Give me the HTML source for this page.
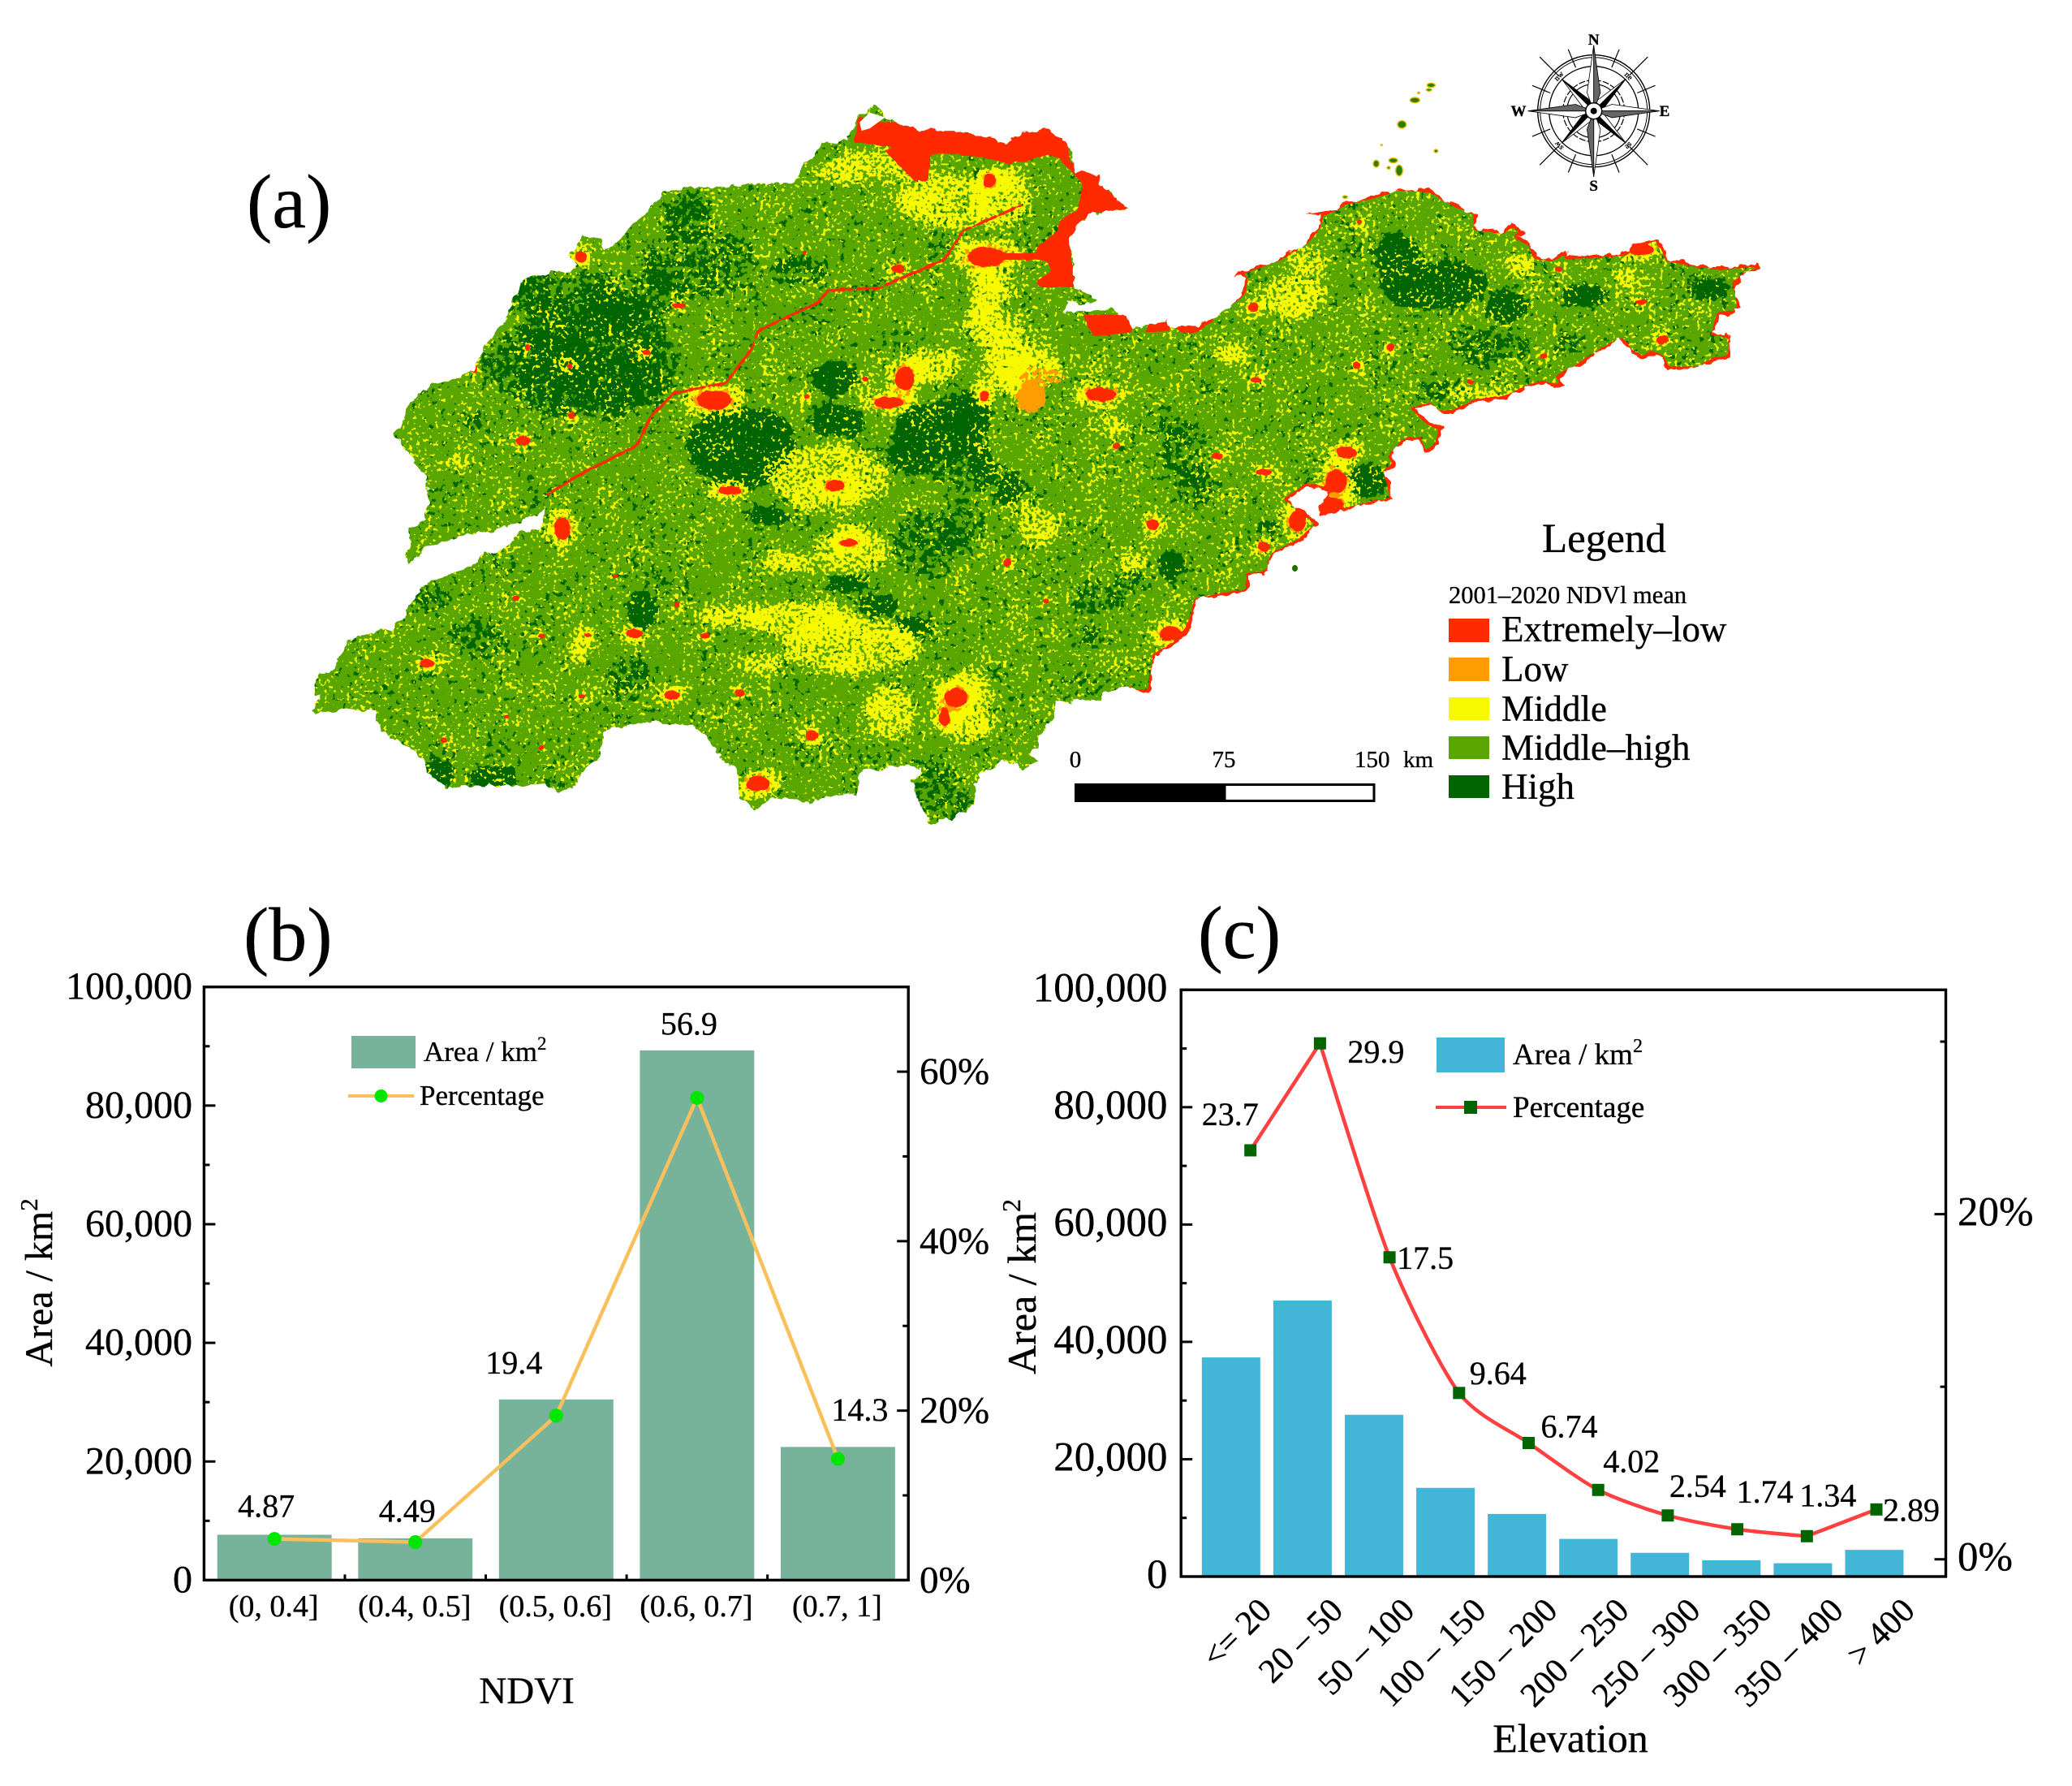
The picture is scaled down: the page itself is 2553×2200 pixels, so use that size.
<!DOCTYPE html>
<html lang="en">
<head>
<meta charset="utf-8">
<title>NDVI map and distribution charts</title>
<style>
html,body{margin:0;padding:0;background:#fff;}
svg{display:block;font-family:"Liberation Serif",serif;fill:#000;}
svg text{stroke:#000;stroke-width:0.35px;}
</style>
</head>
<body>
<svg id="fig" xmlns="http://www.w3.org/2000/svg" width="2553" height="2200" viewBox="0 0 2553 2200">
<defs>
<filter id="fDark" filterUnits="userSpaceOnUse" x="340" y="100" width="1900" height="960" color-interpolation-filters="sRGB">
<feTurbulence type="fractalNoise" baseFrequency="0.14" numOctaves="3" seed="7" result="n1"/>
<feColorMatrix in="n1" type="matrix" values="0 0 0 0 0 0 0 0 0 0 0 0 0 0 0 0 0 0 1 0" result="a1"/>
<feTurbulence type="fractalNoise" baseFrequency="0.022" numOctaves="2" seed="31" result="n2"/>
<feColorMatrix in="n2" type="matrix" values="0 0 0 0 0 0 0 0 0 0 0 0 0 0 0 0 0 0 1 0" result="a2"/>
<feComposite in="a1" in2="a2" operator="arithmetic" k1="0" k2="0.7" k3="0.3" k4="0" result="na"/>
<feGaussianBlur in="SourceAlpha" stdDeviation="5" result="d"/>
<feComposite in="d" in2="na" operator="arithmetic" k1="0" k2="1" k3="1" k4="-1" result="s"/>
<feComponentTransfer in="s" result="t"><feFuncA type="linear" slope="40" intercept="0"/></feComponentTransfer>
<feFlood flood-color="#006400"/><feComposite in2="t" operator="in"/>
</filter>
<filter id="fYel" filterUnits="userSpaceOnUse" x="340" y="100" width="1900" height="960" color-interpolation-filters="sRGB">
<feTurbulence type="fractalNoise" baseFrequency="0.22" numOctaves="2" seed="21" result="n1"/>
<feColorMatrix in="n1" type="matrix" values="0 0 0 0 0 0 0 0 0 0 0 0 0 0 0 0 0 0 1 0" result="a1"/>
<feTurbulence type="fractalNoise" baseFrequency="0.03" numOctaves="2" seed="44" result="n2"/>
<feColorMatrix in="n2" type="matrix" values="0 0 0 0 0 0 0 0 0 0 0 0 0 0 0 0 0 0 1 0" result="a2"/>
<feComposite in="a1" in2="a2" operator="arithmetic" k1="0" k2="0.75" k3="0.25" k4="0" result="na"/>
<feGaussianBlur in="SourceAlpha" stdDeviation="6" result="d"/>
<feComposite in="d" in2="na" operator="arithmetic" k1="0" k2="1" k3="1" k4="-1" result="s"/>
<feComponentTransfer in="s" result="t"><feFuncA type="linear" slope="40" intercept="0"/></feComponentTransfer>
<feFlood flood-color="#f8f800"/><feComposite in2="t" operator="in"/>
</filter>
<filter id="fOrg" filterUnits="userSpaceOnUse" x="340" y="100" width="1900" height="960" color-interpolation-filters="sRGB">
<feTurbulence type="fractalNoise" baseFrequency="0.18" numOctaves="2" seed="5" result="n"/>
<feColorMatrix in="n" type="matrix" values="0 0 0 0 0 0 0 0 0 0 0 0 0 0 0 0 0 0 1 0" result="na"/>
<feGaussianBlur in="SourceAlpha" stdDeviation="4" result="d"/>
<feComposite in="d" in2="na" operator="arithmetic" k1="0" k2="1" k3="1" k4="-1" result="s"/>
<feComponentTransfer in="s" result="t"><feFuncA type="linear" slope="40" intercept="0"/></feComponentTransfer>
<feFlood flood-color="#ff9c00"/><feComposite in2="t" operator="in"/>
</filter>
<filter id="fRed" filterUnits="userSpaceOnUse" x="340" y="100" width="1900" height="960" color-interpolation-filters="sRGB">
<feTurbulence type="fractalNoise" baseFrequency="0.12" numOctaves="3" seed="11" result="n"/>
<feColorMatrix in="n" type="matrix" values="0 0 0 0 0 0 0 0 0 0 0 0 0 0 0 0 0 0 1 0" result="na"/>
<feGaussianBlur in="SourceAlpha" stdDeviation="1.5" result="d"/>
<feComposite in="d" in2="na" operator="arithmetic" k1="0" k2="1" k3="0.8" k4="-0.9" result="s"/>
<feComponentTransfer in="s" result="t"><feFuncA type="linear" slope="40" intercept="0"/></feComponentTransfer>
<feFlood flood-color="#ff2a00"/><feComposite in2="t" operator="in"/>
</filter>
<filter id="fRough" filterUnits="userSpaceOnUse" x="340" y="100" width="1900" height="960">
<feTurbulence type="fractalNoise" baseFrequency="0.07" numOctaves="3" seed="3" result="n"/>
<feDisplacementMap in="SourceGraphic" in2="n" scale="12" xChannelSelector="R" yChannelSelector="G"/>
</filter>
<mask id="landMask" maskUnits="userSpaceOnUse" x="340" y="100" width="1900" height="960">
<path id="landMaskPath" d="" fill="#fff" filter="url(#fRough)"/>
</mask>
</defs>

<g id="mapLayer"></g>
<g id="compass"></g>

<text x="304" y="280" font-size="94">(a)</text>
<text x="300" y="1183" font-size="94">(b)</text>
<text x="1476" y="1180" font-size="92">(c)</text>

<g>
<text x="1900" y="680" font-size="51">Legend</text>
<text x="1785" y="743" font-size="30.5">2001–2020 NDVl mean</text>
<rect x="1785" y="762" width="50" height="29" fill="#ff2a00"/>
<text x="1850" y="790" font-size="45">Extremely–low</text>
<rect x="1785" y="810" width="50" height="29" fill="#ff9c00"/>
<text x="1850" y="839" font-size="45">Low</text>
<rect x="1785" y="859" width="50" height="28" fill="#f8f800"/>
<text x="1850" y="888" font-size="45">Middle</text>
<rect x="1785" y="907" width="50" height="28" fill="#5aa600"/>
<text x="1850" y="936" font-size="45">Middle–high</text>
<rect x="1785" y="955" width="50" height="28" fill="#006400"/>
<text x="1850" y="984" font-size="45">High</text>
</g>

<g>
<rect x="1324" y="965" width="185" height="23" fill="#000"/>
<rect x="1509" y="966.5" width="184" height="20" fill="#fff" stroke="#000" stroke-width="3"/>
<text x="1325" y="945" font-size="29" text-anchor="middle">0</text>
<text x="1508" y="945" font-size="29" text-anchor="middle">75</text>
<text x="1669" y="945" font-size="29">150</text>
<text x="1729" y="945" font-size="29">km</text>
</g>

<g id="chartB"></g>
<g id="chartC"></g>

<g>
<rect x="433" y="1276" width="79" height="40" fill="#76b39a"/>
<text x="522" y="1307" font-size="35">Area / km<tspan dy="-14" font-size="23">2</tspan></text>
<line x1="429" y1="1350" x2="510" y2="1350" stroke="#fbc05c" stroke-width="4"/>
<circle cx="469.5" cy="1350" r="8" fill="#00e600"/>
<text x="517" y="1361" font-size="35">Percentage</text>
</g>
<g>
<rect x="1770" y="1278" width="84" height="43" fill="#43b6d8"/>
<text x="1864" y="1311" font-size="37">Area / km<tspan dy="-15" font-size="24">2</tspan></text>
<line x1="1769" y1="1364" x2="1856" y2="1364" stroke="#ff4040" stroke-width="4"/>
<rect x="1804" y="1356" width="16" height="16" fill="#006400"/>
<text x="1864" y="1376" font-size="37">Percentage</text>
</g>

<script>
// ---- chart data ----
const ndviCategories = ["(0, 0.4]", "(0.4, 0.5]", "(0.5, 0.6]", "(0.6, 0.7]", "(0.7, 1]"];
const ndviArea = [7650, 7050, 30460, 89300, 22450];
const ndviPercent = [4.87, 4.49, 19.4, 56.9, 14.3];
const ndviPercentLabels = ["4.87", "4.49", "19.4", "56.9", "14.3"];
const elevCategories = ["<= 20", "20 – 50", "50 – 100", "100 – 150", "150 – 200", "200 – 250", "250 – 300", "300 – 350", "350 – 400", "> 400"];
const elevArea = [37350, 47040, 27570, 15120, 10670, 6420, 4050, 2770, 2270, 4545];
const elevPercent = [23.7, 29.9, 17.5, 9.64, 6.74, 4.02, 2.54, 1.74, 1.34, 2.89];
const elevPercentLabels = ["23.7", "29.9", "17.5", "9.64", "6.74", "4.02", "2.54", "1.74", "1.34", "2.89"];
const areaTicks = [0, 20000, 40000, 60000, 80000, 100000];
const areaTickLabels = ["0", "20,000", "40,000", "60,000", "80,000", "100,000"];
const areaMinorTicks = [10000, 30000, 50000, 70000, 90000];
const ndviPctTicks = [0, 20, 40, 60];
const ndviPctMinorTicks = [10, 30, 50];
const elevPctTicks = [0, 20];
const elevPctMinorTicks = [10, 30];

const NS = "http://www.w3.org/2000/svg";
function mk(tag, parent, attrs, txt) {
  const e = document.createElementNS(NS, tag);
  for (const k in attrs) e.setAttribute(k, attrs[k]);
  if (txt !== undefined) e.textContent = txt;
  parent.appendChild(e);
  return e;
}

// ---- Panel b ----
(function () {
  const root = document.getElementById("chartB");
  const L = 251.4, R = 1119.2, T = 1215.7, B = 1946.4;
  const band = (R - L) / ndviCategories.length;
  const xScale = i => L + (i + 0.5) * band;
  const yArea = v => B - v / 100000 * (B - T);
  const yPct = p => B - p / 70 * (B - T);
  const barW = band * 0.812;

  ndviArea.forEach((v, i) => {
    const bar = mk("rect", root, { x: xScale(i) - barW / 2, y: yArea(v), width: barW, height: B - yArea(v), fill: "#76b39a" });
    
    
  });

  const frame = mk("rect", root, { x: L, y: T, width: R - L, height: B - T, fill: "none", stroke: "#000", "stroke-width": 3.4 });
  
  

  areaTicks.forEach((v, i) => {
    const t = mk("line", root, { x1: L, x2: L + 14, y1: yArea(v), y2: yArea(v), stroke: "#000", "stroke-width": 3 });
    
    
    const lb = mk("text", root, { x: 237, y: yArea(v) + 15, "font-size": 48, "text-anchor": "end" }, areaTickLabels[i]);
    
    
  });
  areaMinorTicks.forEach(v => {
    const t = mk("line", root, { x1: L, x2: L + 7, y1: yArea(v), y2: yArea(v), stroke: "#000", "stroke-width": 3 });
    
    
  });
  ndviPctTicks.forEach(p => {
    const t = mk("line", root, { x1: R - 14, x2: R, y1: yPct(p), y2: yPct(p), stroke: "#000", "stroke-width": 3 });
    
    
    const lb = mk("text", root, { x: 1133, y: yPct(p) + 15, "font-size": 47 }, p + "%");
    
    
  });
  ndviPctMinorTicks.forEach(p => {
    const t = mk("line", root, { x1: R - 7, x2: R, y1: yPct(p), y2: yPct(p), stroke: "#000", "stroke-width": 3 });
    
    
  });
  ndviCategories.forEach((c, i) => {
    if (i > 0) {
      const t = mk("line", root, { x1: L + i * band, x2: L + i * band, y1: B - 7, y2: B, stroke: "#000", "stroke-width": 3 });
      
      
    }
    const lb = mk("text", root, { x: xScale(i) - 1, y: 1991, "font-size": 38, "text-anchor": "middle" }, c);
    
    
  });

  const pts = ndviPercent.map((p, i) => [xScale(i), yPct(p)]);
  const line = mk("polyline", root, { points: pts.map(p => p.join(",")).join(" "), fill: "none", stroke: "#fbc05c", "stroke-width": 4.5 });
  
  
  const nudge = [[-10, -27], [-10, -25], [-52, -52], [-10, -78], [27, -47]];
  pts.forEach((p, i) => {
    const m = mk("circle", root, { cx: p[0], cy: p[1], r: 8.5, fill: "#00e600" });
    
    
    const lb = mk("text", root, { x: p[0] + nudge[i][0], y: p[1] + nudge[i][1], "font-size": 40, "text-anchor": "middle" }, ndviPercentLabels[i]);
    
    
  });

  const xt = mk("text", root, { x: 649, y: 2098, "font-size": 47, "text-anchor": "middle" }, "NDVI");
  
  
  const yt = mk("text", root, { transform: "translate(64,1580) rotate(-90)", "font-size": 48, "text-anchor": "middle" }, "Area / km");
  
  
  mk("tspan", yt, { dy: -18, "font-size": 31 }, "2");
})();

// ---- Panel c ----
(function () {
  const root = document.getElementById("chartC");
  const L = 1455.2, R = 2397.5, T = 1219.3, B = 1942;
  const band = (R - L) / 10.7;
  const xBar = i => L + (i + 0.7) * band;
  const xLine = i => 1540.7 + i * (2312 - 1540.7) / (elevPercent.length - 1);
  const yArea = v => B - v / 100000 * (B - T);
  const yPct = p => B - (p + 1) / 34 * (B - T);
  const barW = 72;

  elevArea.forEach((v, i) => {
    const bar = mk("rect", root, { x: xBar(i) - barW / 2, y: yArea(v), width: barW, height: B - yArea(v), fill: "#43b6d8" });
    
    
  });
  const frame = mk("rect", root, { x: L, y: T, width: R - L, height: B - T, fill: "none", stroke: "#000", "stroke-width": 3.4 });
  
  

  areaTicks.forEach((v, i) => {
    const t = mk("line", root, { x1: L, x2: L + 14, y1: yArea(v), y2: yArea(v), stroke: "#000", "stroke-width": 3 });
    
    
    const lb = mk("text", root, { x: 1438.5, y: yArea(v) + 14, "font-size": 51, "text-anchor": "end" }, areaTickLabels[i]);
    
    
  });
  areaMinorTicks.forEach(v => {
    const t = mk("line", root, { x1: L, x2: L + 7, y1: yArea(v), y2: yArea(v), stroke: "#000", "stroke-width": 3 });
    
    
  });
  elevPctTicks.forEach(p => {
    const t = mk("line", root, { x1: R - 14, x2: R, y1: yPct(p), y2: yPct(p), stroke: "#000", "stroke-width": 3 });
    
    
    const lb = mk("text", root, { x: 2412, y: yPct(p) + 14, "font-size": 51 }, p + "%");
    
    
  });
  elevPctMinorTicks.forEach(p => {
    const t = mk("line", root, { x1: R - 7, x2: R, y1: yPct(p), y2: yPct(p), stroke: "#000", "stroke-width": 3 });
    
    
  });
  elevCategories.forEach((c, i) => {
    const ax = xBar(i) + 52, ay = 1986;
    const lb = mk("text", root, { transform: "translate(" + ax + "," + ay + ") rotate(-45)", "font-size": 42, "text-anchor": "end" }, c);
    
    
  });

  const pts = elevPercent.map((p, i) => [xLine(i), yPct(p)]);
  const sharp = i => {
    if (i <= 0 || i >= pts.length - 1) return true;
    return (pts[i][1] - pts[i - 1][1]) * (pts[i + 1][1] - pts[i][1]) < 0;
  };
  let d = "M" + pts[0].join(",");
  for (let i = 0; i < pts.length - 1; i++) {
    const p0 = pts[Math.max(i - 1, 0)], p1 = pts[i], p2 = pts[i + 1], p3 = pts[Math.min(i + 2, pts.length - 1)];
    const k = 1 / 8;
    const c1 = sharp(i) ? p1 : [p1[0] + (p2[0] - p0[0]) * k, p1[1] + (p2[1] - p0[1]) * k];
    const c2 = sharp(i + 1) ? p2 : [p2[0] - (p3[0] - p1[0]) * k, p2[1] - (p3[1] - p1[1]) * k];
    d += " C" + c1.join(",") + " " + c2.join(",") + " " + p2.join(",");
  }
  const line = mk("path", root, { d: d, fill: "none", stroke: "#ff4040", "stroke-width": 4.5 });
  
  
  const nudge = [[-25, -31], [69, 24], [44, 14], [48, -11], [50, -7], [41, -22], [37, -23], [34, -33], [26, -37], [43, 14]];
  pts.forEach((p, i) => {
    const m = mk("rect", root, { x: p[0] - 7.5, y: p[1] - 7.5, width: 15, height: 15, fill: "#006400" });
    
    
    const lb = mk("text", root, { x: p[0] + nudge[i][0], y: p[1] + nudge[i][1], "font-size": 40, "text-anchor": "middle" }, elevPercentLabels[i]);
    
    
  });
  const xt = mk("text", root, { x: 1935, y: 2158, "font-size": 50, "text-anchor": "middle" }, "Elevation");
  
  
  const yt = mk("text", root, { transform: "translate(1276,1585) rotate(-90)", "font-size": 50, "text-anchor": "middle" }, "Area / km");
  
  
  mk("tspan", yt, { dy: -19, "font-size": 32 }, "2");
})();

// ---- Map ----
(function () {
  const z5 = p => [360 + p[0] / 1.742, 120 + p[1] / 1.704];
  const z6 = p => [1200 + p[0] / 1.568, 200 + p[1] / 2.24];
  const z7 = p => [1200 + p[0] / 3, 480 + p[1] / 2.9];
  const west = [[45,1260],[55,1212],[80,1205],[105,1170],[120,1140],[160,1125],[210,1118],[245,1085],[265,1050],[295,1015],[340,1000],[385,985],[410,960],[460,945],[490,910],[530,905],[545,860],[520,880],[470,900],[420,910],[340,925],[290,945],[250,978],[243,965],[255,920],[250,905],[290,885],[285,870],[295,830],[285,790],[270,775],[245,740],[220,710],[235,680],[260,635],[290,605],[340,595],[390,575],[405,540],[420,510],[460,470],[470,430],[500,380],[560,365],[600,365],[610,350],[595,330],[620,295],[660,295],[670,325],[700,300],[760,240],[810,190],[880,190],[950,185],[1030,180],[1075,180],[1110,130],[1135,95],[1190,90],[1205,60],[1215,35],[1245,20],[1275,40],[1330,65],[1420,70],[1500,85],[1530,95],[1568,72]];
  const join1 = [[1286,158],[1310,171],[1327,212]];
  const east = [[240,30],[245,70],[280,100],[298,130],[270,135],[230,140],[200,170],[185,220],[190,290],[195,345],[225,375],[235,385],[205,390],[180,380],[170,415],[215,410],[260,405],[300,425],[305,460],[345,445],[370,435],[375,460],[420,450],[465,435],[500,385],[520,360],[525,320],[505,310],[540,290],[590,265],[640,220],[665,180],[670,150],[640,145],[690,135],[720,110],[780,90],[820,72],[880,75],[920,110],[970,140],[970,180],[1020,190],[1040,172],[1065,190],[1050,205],[1075,225],[1085,260],[1115,265],[1145,245],[1145,260],[1200,258],[1260,250],[1275,225],[1320,210],[1330,235],[1340,265],[1400,285],[1450,290],[1510,280],[1520,295],[1490,310],[1470,335],[1480,400],[1470,415],[1440,420],[1430,470],[1465,480],[1460,540],[1430,545],[1400,570],[1340,570],[1330,540],[1310,525],[1290,545],[1270,520],[1250,490],[1200,530],[1160,570],[1130,590],[1140,620],[1100,610],[1070,620],[1030,650],[970,660],[925,690],[895,690],[880,670],[850,680],[880,720],[905,730],[895,780],[870,805],[860,765],[830,770],[805,810],[815,835],[795,850],[810,930],[770,940],[720,960],[665,970],[685,900],[640,895],[605,930],[640,965],[665,1000],[630,1045],[580,1080],[565,1135],[530,1140],[530,1185],[480,1195],[430,1210],[420,1265],[400,1320],[350,1360],[340,1460]];
  const se = [[600,1080],[570,1065],[480,1085],[470,1105],[300,1120],[295,1180],[240,1240],[235,1280],[200,1300],[235,1325],[180,1350],[110,1330]];
  const south = [[1470,1420],[1465,1480],[1440,1500],[1395,1520],[1365,1525],[1345,1470],[1330,1440],[1350,1410],[1300,1400],[1215,1420],[1215,1465],[1170,1460],[1110,1480],[1060,1470],[1030,1470],[990,1495],[960,1470],[950,1410],[920,1385],[890,1340],[860,1315],[780,1310],[720,1318],[670,1330],[660,1390],[635,1400],[600,1450],[560,1455],[540,1440],[490,1445],[380,1445],[330,1450],[290,1415],[280,1385],[190,1330],[180,1290],[120,1285],[70,1290],[45,1285],[60,1250]];
  const land = west.map(z5).concat(join1, east.map(z6), se.map(z7), south.map(z5));
  const toD = a => "M" + a.map(p => p[0].toFixed(1) + "," + p[1].toFixed(1)).join("L") + "Z";
  const landD = toD(land);
  document.getElementById("landMaskPath").setAttribute("d", landD);

  const root = document.getElementById("mapLayer");
  const clip = mk("g", root, { mask: "url(#landMask)" });
  
  
  const base = mk("rect", clip, { x: 340, y: 100, width: 1900, height: 960, fill: "#5aa600" });
  
  

  const blob = (g, conv, b, sx, sy, scale, op) => {
    const c = conv([b[0], b[1]]);
    mk("ellipse", g, { cx: c[0], cy: c[1], rx: b[2] / sx * scale, ry: b[3] / sy * scale, fill: "#000", "fill-opacity": op });
  };
  const S5 = [1.742, 1.704], S6 = [1.568, 2.24];

  // dark green (high)
  const darkSolid5 = [[965,735,110,80],[1000,700,70,40],[1165,590,45,30],[1170,680,55,30],[1390,700,95,55],[1450,660,50,35],[1330,750,45,35],[1020,880,40,15],[1190,1020,40,15],[1260,1065,40,18],[1330,1110,40,18],[310,1420,35,25],[430,1430,50,20],[750,1075,30,35]];
  const darkPlain5 = [[1440,780,70,40],[1520,820,50,40],[650,490,150,85],[640,610,170,65],[540,590,50,40],[1090,365,60,35],[400,1130,60,45],[565,1440,30,15],[290,1050,50,30],[720,1220,45,50],[1360,940,70,70],[1440,900,50,50],[850,260,60,50],[780,1020,30,30],[390,680,30,20],[640,420,200,60],[620,560,210,90],[880,350,120,70],[1390,1470,70,60]];
  const darkSolid6 = [[890,340,100,60],[820,260,40,60],[760,880,35,40],[1180,365,40,25],[1420,350,35,25],[70,900,15,40],[380,1110,20,35],[15,820,15,35],[1030,400,40,40]];
  const darkPlain6 = [[730,240,30,30],[970,510,50,60],[1150,500,30,30],[1290,260,25,20],[410,800,50,90],[240,1200,50,40],[310,1150,30,30],[500,1060,20,30],[30,1415,20,20],[230,1320,50,30],[575,1010,25,30],[10,700,15,20],[920,630,50,30],[1050,500,30,40],[430,900,40,50]];
  const gDark = mk("g", clip, { filter: "url(#fDark)" });
  
  
  mk("rect", gDark, { x: 340, y: 100, width: 1900, height: 960, fill: "#000", "fill-opacity": 0.37 });
  darkSolid5.forEach(b => blob(gDark, z5, b, S5[0], S5[1], 1, 1));
  darkSolid6.forEach(b => blob(gDark, z6, b, S6[0], S6[1], 1, 1));
  darkPlain5.forEach(b => blob(gDark, z5, b, S5[0], S5[1], 1.05, 0.25));
  darkPlain6.forEach(b => blob(gDark, z6, b, S6[0], S6[1], 1.05, 0.25));

  // red (extremely low) cities
  const city5 = [[905,635,45,25],[580,905,22,28],[620,335,15,15],[390,570,10,12],[495,720,20,12],[595,565,10,8],[600,668,10,10],[505,525,8,10],[760,535,12,8],[830,437,20,8],[1100,325,8,6],[1300,360,18,12],[1490,335,50,25],[1315,590,25,30],[1280,640,40,15],[1165,815,25,15],[940,825,30,12],[290,1188,20,12],[735,1125,22,12],[1425,1260,30,25],[1400,1300,15,25],[815,1255,22,12],[960,1250,15,10],[1115,1340,18,15],[1000,1440,30,20],[1195,935,25,10],[885,1130,15,8],[480,1052,10,7],[535,1130,10,7],[622,1257,10,7],[325,1350,10,8],[535,1365,8,7],[460,1300,10,6],[635,1128,12,6],[825,1065,8,10],[695,1005,8,6],[1485,628,12,12],[1230,590,10,8],[1105,628,10,8],[1500,175,12,12]];
  const city6 = [[245,640,35,25],[545,600,15,10],[740,560,10,12],[805,510,10,15],[470,810,15,12],[720,800,25,20],[560,855,20,12],[700,880,25,40],[690,945,30,25],[625,990,20,35],[345,1000,15,20],[560,1060,15,18],[380,1300,25,25],[140,1210,8,10],[65,1105,10,15],[20,640,10,15],[275,785,10,12],[1290,240,30,20],[1130,295,10,10],[540,400,15,15],[30,50,15,25],[745,165,8,8],[1290,385,15,10],[1330,490,15,15],[1100,535,10,8],[960,605,10,8]];

  // yellow (middle)
  const yel5 = [[1150,800,130,70],[1200,950,80,50],[1060,980,70,20],[1280,1290,60,60],[1000,1190,50,20],[1200,1150,150,60],[1540,560,50,70],[1400,220,100,60],[1250,150,120,35],[350,770,40,20],[1450,1280,60,80],[1100,1100,120,40],[620,1150,30,40],[1500,480,70,40],[1380,560,60,40],[950,1090,80,25]];
  const yel6 = [[110,570,60,60],[280,730,30,30],[620,370,60,60],[500,530,40,30],[50,100,60,80],[650,270,40,40],[1050,280,30,30],[30,360,40,60],[1000,640,90,18],[300,1115,30,30],[1260,320,30,30],[120,1000,40,60]];
  const gYel = mk("g", clip, { filter: "url(#fYel)" });
  
  
  mk("rect", gYel, { x: 340, y: 100, width: 1900, height: 960, fill: "#000", "fill-opacity": 0.385 });
  mk("rect", gYel, { x: 1190, y: 100, width: 1050, height: 960, fill: "#000", "fill-opacity": 0.025 });
  yel5.forEach(b => blob(gYel, z5, b, S5[0], S5[1], 1, 0.3));
  yel6.forEach(b => blob(gYel, z6, b, S6[0], S6[1], 1, 0.3));
  city5.forEach(b => blob(gYel, z5, b, S5[0], S5[1], 1.5, 0.4));
  city6.forEach(b => blob(gYel, z6, b, S6[0], S6[1], 1.5, 0.4));

  // orange (low)
  const org6 = [[110,650,30,40]];
  const org6Soft = [[130,590,50,30]];
  const gOrg = mk("g", clip, { filter: "url(#fOrg)" });
  
  
  org6.forEach(b => blob(gOrg, z6, b, S6[0], S6[1], 1, 1));
  org6Soft.forEach(b => blob(gOrg, z6, b, S6[0], S6[1], 1, 0.55));
  city5.forEach(b => blob(gOrg, z5, b, S5[0], S5[1], 1.2, 0.55));
  city6.forEach(b => blob(gOrg, z6, b, S6[0], S6[1], 1.2, 0.55));

  const gRed = mk("g", clip, { filter: "url(#fRed)" });
  
  
  city5.forEach(b => blob(gRed, z5, b, S5[0], S5[1], 0.85, 0.85));
  city6.forEach(b => blob(gRed, z6, b, S6[0], S6[1], 0.85, 0.85));

  // Yellow River delta and Laizhou Bay reds
  const deltaPoly = [[1205,95],[1215,40],[1250,50],[1330,55],[1420,60],[1500,75],[1530,85],[1568,62],[1568,125],[1540,140],[1450,115],[1370,120],[1365,175],[1335,175],[1270,110]].map(z5);
  mk("path", gRed, { d: toD(deltaPoly.concat([[1286,150],[1315,165],[1318,200],[1290,190],[1262,200]])), fill: "#000" });
  const bayPolys = [
    [[170,-10],[250,30],[255,70],[300,130],[230,140],[200,170],[185,225],[190,290],[200,345],[130,345],[120,330],[150,300],[140,270],[10,270],[10,250],[120,250],[125,230],[160,190],[165,160],[200,130],[210,60],[165,-10]],
    [[210,420],[310,420],[305,470],[230,480]],
    [[340,440],[375,430],[380,465],[330,470]],
    [[385,450],[470,430],[430,470],[400,470]]
  ];
  bayPolys.forEach(a => mk("path", gRed, { d: toD(a.map(z6)), fill: "#000" }));

  // thin river and east coast fringe
  const river = [[545,835],[620,790],[740,730],[770,670],[820,620],[930,600],[985,530],[1000,490],[1130,430],[1150,405],[1260,400],[1400,340],[1440,280],[1568,225]].map(z5);
  mk("polyline", gRed, { points: river.map(p => p.join(",")).join(" "), fill: "none", stroke: "#000", "stroke-width": 3.5 });
  const coast = east.slice(24).map(z6).concat(se.slice(0, 2).map(z7));
  mk("polyline", gRed, { points: coast.map(p => p.join(",")).join(" "), fill: "none", stroke: "#000", "stroke-width": 6 });

  const hole = mk("path", root, { d: toD([[1218,52],[1240,32],[1272,42],[1240,65],[1222,70]].map(z5)), fill: "#fff" });
  
  

  // islands
  const isl = [[340,255,15,8],[332,272,10,5],[280,310,18,10],[232,400,16,14],[137,545,11,13],[200,533,16,9],[222,570,13,20],[358,498,7,6],[22,668,9,5],[183,560,6,5],[157,476,4,2],[294,283,4,3]];
  isl.forEach(b => {
    const e = mk("ellipse", root, { cx: 1650 + b[0] / 3, cy: 20 + b[1] / 3, rx: b[2] / 3, ry: b[3] / 3, fill: "#2c7d00", stroke: "#e8c000", "stroke-width": 1.4 });
    
    
  });
  const isl2 = mk("ellipse", root, { cx: 1595.5, cy: 700, rx: 3.5, ry: 4, fill: "#1c7000" });
  
  
})();

// ---- Compass ----
(function () {
  const g = document.getElementById("compass");
  const cx = 1963.7, cy = 136.7;
  const pol = (r, deg) => { const a = deg * Math.PI / 180; return [cx + r * Math.sin(a), cy - r * Math.cos(a)]; };
  [[69, 1.4], [66, 1], [55, 1.3], [38, 1.2], [33, 1.2]].forEach((c, i) => {
    const a = { cx: cx, cy: cy, r: c[0], fill: "none", stroke: "#000", "stroke-width": c[1] };
    if (i === 3) a["stroke-dasharray"] = "8 2";
    mk("circle", g, a);
  });
  for (let d = 22.5; d < 360; d += 45) {
    const a = pol(58, d), b = pol(82, d);
    mk("line", g, { x1: a[0], y1: a[1], x2: b[0], y2: b[1], stroke: "#000", "stroke-width": 1.2 });
  }
  for (let d = 45; d < 360; d += 90) {
    const a = pol(62, d), b = pol(94, d);
    mk("line", g, { x1: a[0], y1: a[1], x2: b[0], y2: b[1], stroke: "#000", "stroke-width": 1.2 });
  }
  const poly = (pts, fill) => mk("polygon", g, { points: pts.map(p => p.join(",")).join(" "), fill: fill, stroke: "#000", "stroke-width": 0.8 });
  for (let d = 45; d < 360; d += 90) {
    poly([pol(56, d), pol(14, d - 26), [cx, cy]], "#fff");
    poly([pol(56, d), pol(14, d + 26), [cx, cy]], "#000");
  }
  for (let d = 0; d < 360; d += 90) {
    poly([pol(81, d), pol(24, d - 20), [cx, cy]], "#fff");
    poly([pol(81, d), pol(24, d + 20), [cx, cy]], "#666");
  }
  mk("circle", g, { cx: cx, cy: cy, r: 10, fill: "#fff", stroke: "#000", "stroke-width": 1.5 });
  mk("circle", g, { cx: cx, cy: cy, r: 4, fill: "#000" });
  [["N", cx, 55], ["S", cx, 235], ["E", 2051, 143], ["W", 1871, 143]].forEach(t => {
    const e = mk("text", g, { x: t[1], y: t[2], "font-size": 19, "text-anchor": "middle", "font-weight": "bold" }, t[0]);
    
    
  });
  [["nw", -45], ["ne", 45], ["se", 135], ["sw", 225]].forEach(t => {
    const p = pol(60, t[1]);
    const e = mk("text", g, { transform: "translate(" + p[0] + "," + p[1] + ") rotate(" + t[1] + ")", "font-size": 10, "text-anchor": "middle", "dominant-baseline": "middle" }, t[0]);
    
    
  });
})();
</script>
</svg>
</body>
</html>
